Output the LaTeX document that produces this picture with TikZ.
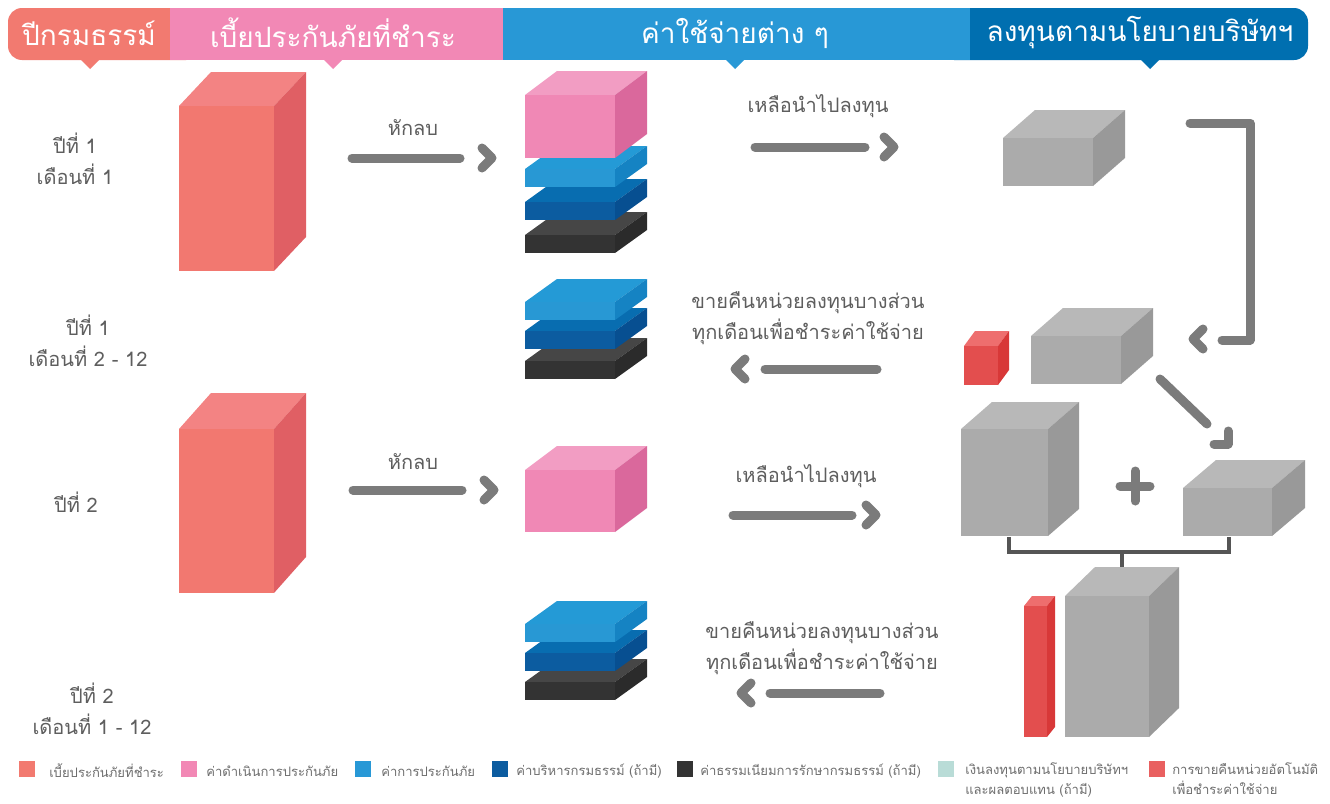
\documentclass[tikz,border=0pt]{standalone}
\usepackage{fontspec}
\setmainfont[Script=Thai]{Loma}
\definecolor{hSal}{HTML}{F27A70}
\definecolor{hPink}{HTML}{F288B5}
\definecolor{hBlue}{HTML}{2898D6}
\definecolor{hDblue}{HTML}{006FB0}
\definecolor{salF}{HTML}{F27870}\definecolor{salT}{HTML}{F38383}\definecolor{salS}{HTML}{E05F64}
\definecolor{pinkF}{HTML}{F088B5}\definecolor{pinkT}{HTML}{F29DC3}\definecolor{pinkS}{HTML}{DA689C}
\definecolor{blueF}{HTML}{2898D4}\definecolor{blueT}{HTML}{249AD6}\definecolor{blueS}{HTML}{1583C3}
\definecolor{dblueF}{HTML}{0C5CA0}\definecolor{dblueT}{HTML}{086DB0}\definecolor{dblueS}{HTML}{074F91}
\definecolor{blackF}{HTML}{333333}\definecolor{blackT}{HTML}{464646}\definecolor{blackS}{HTML}{2B2B2B}
\definecolor{grayF}{HTML}{ABABAB}\definecolor{grayT}{HTML}{B8B8B8}\definecolor{grayS}{HTML}{999999}
\definecolor{redF}{HTML}{E34E4E}\definecolor{redT}{HTML}{EE6E6E}\definecolor{redS}{HTML}{D83838}
\definecolor{tealL}{HTML}{B9DCD7}
\definecolor{legRed}{HTML}{E96060}
\definecolor{txtgray}{HTML}{5E5E5E}
\definecolor{leggray}{HTML}{6E6E6E}
\definecolor{arrgray}{HTML}{7B7B7B}
\definecolor{brgray}{HTML}{555555}
% cuboid: x y w h dx dy scheme
\newcommand\cub[7]{%
  \fill[#7T] (#1,#2) -- (#1+#5,#2-#6) -- (#1+#3+#5,#2-#6) -- (#1+#3,#2) -- cycle;
  \fill[#7S] (#1+#3,#2) -- (#1+#3+#5,#2-#6) -- (#1+#3+#5,#2+#4-#6) -- (#1+#3,#2+#4) -- cycle;
  \fill[#7F] (#1,#2) rectangle (#1+#3,#2+#4);}
\begin{document}
\begin{tikzpicture}[x=0.75pt,y=-0.75pt,
  hdr/.style={text=white,font=\fontsize{21}{24}\selectfont,inner sep=0pt},
  lbl/.style={text=txtgray,font=\fontsize{15}{23}\selectfont,align=center,inner sep=0pt},
  arr/.style={draw=arrgray,line width=6.75pt,line cap=round,line join=round},
  brk/.style={draw=brgray,line width=2.4pt},
  leg/.style={text=leggray,font=\fontsize{9.8}{15.5}\selectfont,anchor=west,align=left,inner sep=0pt},
  sq/.style={minimum size=11.5pt,inner sep=0pt,anchor=center}]
\useasboundingbox (0,0) rectangle (1330,803);
\fill[white] (0,0) rectangle (1330,803);
% header
\fill[hDblue,rounded corners=10.5pt] (940,8) rectangle (1308,60);
\fill[hSal,rounded corners=10.5pt] (8,8) rectangle (200,60);
\fill[hPink] (170,8) rectangle (503,60);
\fill[hBlue] (503,8) rectangle (970,60);
\fill[hSal] (81,60) -- (99,60) -- (90,69) -- cycle;
\fill[hPink] (324,60) -- (342,60) -- (333,69) -- cycle;
\fill[hBlue] (726,60) -- (744,60) -- (735,69) -- cycle;
\fill[hDblue] (1141,60) -- (1159,60) -- (1150,69) -- cycle;
\node[hdr] (h1) at (89,33) {ปีกรมธรรม์};
\node[hdr] (h2) at (333,33) {เบี้ยประกันภัยที่ชำระ};
\node[hdr] (h3) at (735,33) {ค่าใช้จ่ายต่าง ๆ};
\node[hdr] (h4) at (1140,33) {ลงทุนตามนโยบายบริษัทฯ};
% left labels
\node[lbl] (r1) at (75,159) {ปีที่ 1\\เดือนที่ 1};
\node[lbl] (r2) at (88,341) {ปีที่ 1\\เดือนที่ 2 - 12};
\node[lbl] (r3) at (76,502) {ปีที่ 2};
\node[lbl] (r4) at (92,709) {ปีที่ 2\\เดือนที่ 1 - 12};
% premium boxes
\cub{179}{106}{95}{165}{32}{34}{sal}
\cub{179}{429}{95}{164}{32}{36}{sal}
% expense stack 1
\cub{525}{235}{90}{18}{32}{23}{black}
\cub{525}{202}{90}{18}{32}{23}{dblue}
\cub{525}{169}{90}{18}{32}{23}{blue}
\cub{525}{95}{90}{63}{32}{24}{pink}
% stack 2
\cub{525}{361}{90}{18}{32}{23}{black}
\cub{525}{331}{90}{18}{32}{23}{dblue}
\cub{525}{302}{90}{18}{32}{23}{blue}
% pink row 3
\cub{525}{470}{90}{62}{32}{24}{pink}
% stack 3
\cub{525}{682}{90}{18}{32}{23}{black}
\cub{525}{653}{90}{18}{32}{23}{dblue}
\cub{525}{624}{90}{18}{32}{23}{blue}
% investment boxes
\cub{1003}{138}{90}{48}{32}{28}{gray}
\cub{964}{346}{34}{39}{11}{15}{red}
\cub{1031}{336}{90}{48}{32}{28}{gray}
\cub{961}{429}{87}{107}{31}{27}{gray}
\cub{1183}{488}{89}{48}{33}{28}{gray}
\cub{1024}{606}{23}{131}{8}{10}{red}
\cub{1065}{596}{84}{141}{30}{29}{gray}
% arrow labels
\node[lbl] (t1) at (413,128) {หักลบ};
\node[lbl] (t2) at (818,106) {เหลือนำไปลงทุน};
\node[lbl] (t3) at (808,318) {ขายคืนหน่วยลงทุนบางส่วน\\ทุกเดือนเพื่อชำระค่าใช้จ่าย};
\node[lbl] (t4) at (413,462) {หักลบ};
\node[lbl] (t5) at (806,476) {เหลือนำไปลงทุน};
\node[lbl] (t6) at (822,648) {ขายคืนหน่วยลงทุนบางส่วน\\ทุกเดือนเพื่อชำระค่าใช้จ่าย};
% arrow coordinates
\coordinate (a1s) at (352,158); \coordinate (a1e) at (460,158); \coordinate (a1t) at (492,158);
\coordinate (a2s) at (755,147); \coordinate (a2e) at (865,147); \coordinate (a2t) at (894,147);
\coordinate (a3s) at (877,369); \coordinate (a3e) at (765,369); \coordinate (a3t) at (735,369);
\coordinate (a4s) at (353,490); \coordinate (a4e) at (462,490); \coordinate (a4t) at (494,490);
\coordinate (a5s) at (733,515); \coordinate (a5e) at (852,515); \coordinate (a5t) at (876,515);
\coordinate (a6s) at (880,693); \coordinate (a6e) at (770,693); \coordinate (a6t) at (741,693);
\draw[arr] (a1s) -- (a1e); \draw[arr] (a1t) ++(-10,-10) -- (a1t) -- ++(-10,10);
\draw[arr] (a2s) -- (a2e); \draw[arr] (a2t) ++(-10,-10) -- (a2t) -- ++(-10,10);
\draw[arr] (a3s) -- (a3e); \draw[arr] (a3t) ++(10,-10) -- (a3t) -- ++(10,10);
\draw[arr] (a4s) -- (a4e); \draw[arr] (a4t) ++(-10,-10) -- (a4t) -- ++(-10,10);
\draw[arr] (a5s) -- (a5e); \draw[arr] (a5t) ++(-10,-10) -- (a5t) -- ++(-10,10);
\draw[arr] (a6s) -- (a6e); \draw[arr] (a6t) ++(10,-10) -- (a6t) -- ++(10,10);
% right connectors
\coordinate (c1a) at (1190,123); \coordinate (c1b) at (1250,123);
\coordinate (c1c) at (1250,340); \coordinate (c1d) at (1222,340);
\coordinate (c1t) at (1193,339);
\draw[arr] (c1a) -- (c1b) -- (c1c) -- (c1d);
\draw[arr] (c1t) ++(10,-10) -- (c1t) -- ++(10,10);
\coordinate (c2a) at (1160,379); \coordinate (c2b) at (1207,424);
\coordinate (c2t) at (1228,444);
\draw[arr] (c2a) -- (c2b);
\draw[arr] (c2t) ++(-14,0) -- (c2t) -- ++(0,-13);
% plus
\coordinate (pc) at (1135,486);
\draw[arr] (pc) ++(-15,0) -- ++(30,0);
\draw[arr] (pc) ++(0,-15) -- ++(0,30);
% bracket
\coordinate (b1) at (1009,537); \coordinate (b2) at (1009,552);
\coordinate (b3) at (1229,552); \coordinate (b4) at (1229,537);
\coordinate (b5) at (1122,552); \coordinate (b6) at (1122,567);
\draw[brk] (b1) -- (b2) -- (b3) -- (b4);
\draw[brk] (b5) -- (b6);
% legend
\node[sq,fill=hSal] (l1) at (27,769) {};
\node[leg] (lt1) at (49,771) {เบี้ยประกันภัยที่ชำระ};
\node[sq,fill=hPink] (l2) at (189,769) {};
\node[leg] (lt2) at (206,771) {ค่าดำเนินการประกันภัย};
\node[sq,fill=hBlue] (l3) at (363,769) {};
\node[leg] (lt3) at (381,771) {ค่าการประกันภัย};
\node[sq,fill=dblueF] (l4) at (500,769) {};
\node[leg] (lt4) at (516,771) {ค่าบริหารกรมธรรม์ (ถ้ามี)};
\node[sq,fill=blackF] (l5) at (685,769) {};
\node[leg] (lt5) at (700,771) {ค่าธรรมเนียมการรักษากรมธรรม์ (ถ้ามี)};
\node[sq,fill=tealL] (l6) at (946,769) {};
\node[leg,anchor=north west] (lt6) at (965,762) {เงินลงทุนตามนโยบายบริษัทฯ\\และผลตอบแทน (ถ้ามี)};
\node[sq,fill=legRed] (l7) at (1157,769) {};
\node[leg,anchor=north west] (lt7) at (1172,762) {การขายคืนหน่วยอัตโนมัติ\\เพื่อชำระค่าใช้จ่าย};
\end{tikzpicture}
\end{document}
